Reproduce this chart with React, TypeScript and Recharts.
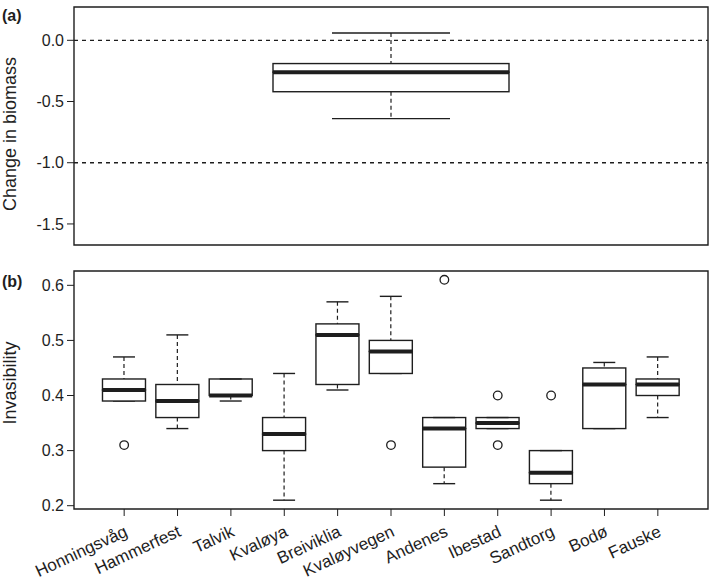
import React from 'react';
import { ComposedChart, Bar, Scatter, XAxis, YAxis, ReferenceLine, ReferenceArea } from 'recharts';

const FONT = '"Liberation Sans", Arial, sans-serif';
const INK = '#1e1e1e';

// panel (a): one box for all sites
const biomassStats = { lower: -0.64, q1: -0.42, median: -0.26, q3: -0.19, upper: 0.06 };
const biomassTicks = [-1.5, -1.0, -0.5, 0.0];
const biomassRefLines = [0, -1];

// panel (b): invasibility per site
const sites = ['Honningsvåg', 'Hammerfest', 'Talvik', 'Kvaløya', 'Breiviklia', 'Kvaløyvegen', 'Andenes', 'Ibestad', 'Sandtorg', 'Bodø', 'Fauske'];
const lowerWhisker = [0.39, 0.34, 0.39, 0.21, 0.41, 0.44, 0.24, 0.34, 0.21, 0.34, 0.36];
const q1 = [0.39, 0.36, 0.40, 0.30, 0.42, 0.44, 0.27, 0.34, 0.24, 0.34, 0.40];
const medians = [0.41, 0.39, 0.40, 0.33, 0.51, 0.48, 0.34, 0.35, 0.26, 0.42, 0.42];
const q3 = [0.43, 0.42, 0.43, 0.36, 0.53, 0.50, 0.36, 0.36, 0.30, 0.45, 0.43];
const upperWhisker = [0.47, 0.51, 0.43, 0.44, 0.57, 0.58, 0.36, 0.36, 0.30, 0.46, 0.47];
const outlierSite = ['Honningsvåg', 'Kvaløyvegen', 'Andenes', 'Ibestad', 'Ibestad', 'Sandtorg'];
const outlierValue = [0.31, 0.31, 0.61, 0.40, 0.31, 0.40];
const invasTicks = [0.2, 0.3, 0.4, 0.5, 0.6];

// stacked segments: hidden base, lower whisker, lower half box, upper half box, upper whisker
const biomassData = [{
  name: 'all',
  base: biomassStats.lower,
  lowW: biomassStats.q1 - biomassStats.lower,
  lowBox: biomassStats.median - biomassStats.q1,
  upBox: biomassStats.q3 - biomassStats.median,
  upW: biomassStats.upper - biomassStats.q3,
}];

const invasData = sites.map((name, i) => ({
  x: i + 1,
  name,
  base: lowerWhisker[i],
  lowW: q1[i] - lowerWhisker[i],
  lowBox: medians[i] - q1[i],
  upBox: q3[i] - medians[i],
  upW: upperWhisker[i] - q3[i],
}));

const outlierData = outlierSite.map((s, i) => ({ x: sites.indexOf(s) + 1, v: outlierValue[i] }));

const edges = (p: any) => {
  const a = p.y, b = p.y + p.height;
  return [Math.min(a, b), Math.max(a, b)];
};

const Hidden = () => <g />;

const whisker = (capW: number, capAtTop: boolean) => (p: any) => {
  const [top, bot] = edges(p);
  const cx = p.x + p.width / 2;
  const cy = capAtTop ? top : bot;
  return (
    <g>
      <line x1={cx} x2={cx} y1={top} y2={bot} stroke={INK} strokeWidth={1.2} strokeDasharray="4 3" />
      <line x1={cx - capW / 2} x2={cx + capW / 2} y1={cy} y2={cy} stroke={INK} strokeWidth={1.4} />
    </g>
  );
};

const LowerBox = (p: any) => {
  const [top, bot] = edges(p);
  return <rect x={p.x} y={top} width={p.width} height={bot - top} fill="#fff" stroke={INK} strokeWidth={1.4} />;
};

const UpperBox = (p: any) => {
  const [top, bot] = edges(p);
  return (
    <g>
      <rect x={p.x} y={top} width={p.width} height={bot - top} fill="#fff" stroke={INK} strokeWidth={1.4} />
      <line x1={p.x} x2={p.x + p.width} y1={bot} y2={bot} stroke={INK} strokeWidth={4} />
    </g>
  );
};

const Outlier = (p: any) => <circle cx={p.cx} cy={p.cy} r={4.3} fill="none" stroke={INK} strokeWidth={1.3} />;

const SiteTick = (p: any) => {
  const ax = p.x + 2;
  const ay = p.y + 12;
  return (
    <text x={ax} y={ay} dy="0.35em" textAnchor="end" transform={`rotate(-25, ${ax}, ${ay})`}
      fill={INK} fontSize={17} fontFamily={FONT}>
      {sites[p.payload.value - 1]}
    </text>
  );
};

const axisTitle = (text: string, shift: number) => (props: any) => {
  const vb = props.viewBox;
  const x = vb.x + 10;
  const y = vb.y + vb.height / 2 + shift;
  return (
    <text x={x} y={y} dy="0.35em" textAnchor="middle" transform={`rotate(-90, ${x}, ${y})`}
      fill={INK} fontSize={18} fontFamily={FONT}>
      {text}
    </text>
  );
};

const tickStyle = { fill: INK, fontSize: 16, fontFamily: FONT };

const BoxSeries = (boxW: number, capW: number) => [
  <Bar key="base" dataKey="base" stackId="b" barSize={boxW} shape={Hidden} isAnimationActive={false} />,
  <Bar key="lowW" dataKey="lowW" stackId="b" barSize={boxW} shape={whisker(capW, false)} isAnimationActive={false} />,
  <Bar key="lowBox" dataKey="lowBox" stackId="b" barSize={boxW} shape={LowerBox} isAnimationActive={false} />,
  <Bar key="upBox" dataKey="upBox" stackId="b" barSize={boxW} shape={UpperBox} isAnimationActive={false} />,
  <Bar key="upW" dataKey="upW" stackId="b" barSize={boxW} shape={whisker(capW, true)} isAnimationActive={false} />,
];

const panelTag: React.CSSProperties = {
  position: 'absolute', left: 2, fontFamily: FONT, fontWeight: 'bold', fontSize: 16, lineHeight: '16px', color: INK,
};

export default function App() {
  const biomassDomain: [number, number] = [-1.672, 0.272];
  const invasDomain: [number, number] = [0.194, 0.626];
  return (
    <div style={{ position: 'absolute', left: 0, top: 0, width: 709, height: 581, background: '#fff' }}>
      <ComposedChart width={709} height={250} data={biomassData}
        margin={{ top: 7, right: 1, bottom: 5, left: 0 }} style={{ position: 'absolute', left: 0, top: 0 }}>
        <XAxis dataKey="name" hide />
        <YAxis type="number" domain={biomassDomain} allowDataOverflow ticks={biomassTicks} interval={0}
          width={74} axisLine={false} tickLine={{ stroke: INK }} tickSize={7} tickMargin={3}
          tick={tickStyle} tickFormatter={(v: number) => v.toFixed(1)}
          label={{ content: axisTitle('Change in biomass', 8) }} />
        {biomassRefLines.map(v => (
          <ReferenceLine key={v} y={v} stroke={INK} strokeWidth={1.3} strokeDasharray="4 4" />
        ))}
        {BoxSeries(236, 118)}
        <ReferenceArea y1={biomassDomain[0]} y2={biomassDomain[1]} fill="none" stroke={INK} strokeWidth={1.4} />
      </ComposedChart>

      <ComposedChart width={709} height={331} data={invasData}
        margin={{ top: 21, right: 1, bottom: 2, left: 0 }} style={{ position: 'absolute', left: 0, top: 250 }}>
        <XAxis type="number" dataKey="x" domain={[0.06, 11.94]} ticks={sites.map((_, i) => i + 1)} interval={0}
          height={70} axisLine={false} tickLine={{ stroke: INK }} tickSize={7} tickMargin={2} tick={SiteTick} />
        <YAxis type="number" domain={invasDomain} allowDataOverflow ticks={invasTicks} interval={0}
          width={74} axisLine={false} tickLine={{ stroke: INK }} tickSize={7} tickMargin={3}
          tick={tickStyle} tickFormatter={(v: number) => v.toFixed(1)}
          label={{ content: axisTitle('Invasibility', -7) }} />
        {BoxSeries(43, 22)}
        <Scatter data={outlierData} dataKey="v" shape={Outlier} isAnimationActive={false} />
        <ReferenceArea y1={invasDomain[0]} y2={invasDomain[1]} fill="none" stroke={INK} strokeWidth={1.4} />
      </ComposedChart>

      <span style={{ ...panelTag, top: 8 }}>(a)</span>
      <span style={{ ...panelTag, top: 274 }}>(b)</span>
    </div>
  );
}
